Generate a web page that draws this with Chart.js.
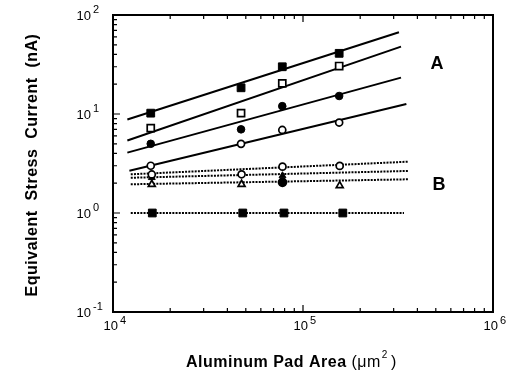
<!DOCTYPE html>
<html>
<head>
<meta charset="utf-8">
<script src="https://cdn.jsdelivr.net/npm/chart.js@4.4.0/dist/chart.umd.min.js"></script>
<style>
    html, body { margin: 0; padding: 0; background: #fff; }
    #wrap { width: 507px; height: 379px; }
</style>
</head>
<body>
<div id="wrap"><canvas id="chart"></canvas></div>
<script>
// tick labels (powers of ten)
const xTickExp = [4, 5, 6];
const yTickExp = [-1, 0, 1, 2];

// measured points, group A (solid fits)
const areaA = [1.58e4, 4.72e4, 7.78e4, 1.55e5];
const stressA1 = [10.2, 18.4, 30, 41];
const stressA2 = [7.2, 10.2, 20.4, 30.5];
const stressA3 = [5.0, 7.0, 12.0, 15.2];
const stressA4 = [3.0, 5.0, 6.9, 8.2];

// measured points, group B (dotted fits)
const areaB = [1.6e4, 4.75e4, 7.8e4, 1.56e5];
const stressB1 = [2.45, 2.46, 2.94, 2.99];
const stressB2 = [2.28, null, 2.38, null];
const stressB3 = [1.95, 1.95, 2.04, 1.89];
const areaB4 = [1.61e4, 4.82e4, 7.94e4, 1.62e5];
const stressB4 = [1.0, 1.0, 1.0, 1.0];

// fitted lines: A1..A4, B1..B4
const fitXLo = [1.19e4, 1.19e4, 1.19e4, 1.22e4, 1.24e4, 1.24e4, 1.24e4, 1.24e4];
const fitXHi = [3.2e5, 3.28e5, 3.28e5, 3.5e5, 3.6e5, 3.6e5, 3.6e5, 3.4e5];
const fitYLo = [8.8, 5.4, 4.07, 2.67, 2.46, 2.27, 1.95, 1.0];
const fitYHi = [66.9, 47.9, 23.3, 12.6, 3.3, 2.66, 2.19, 1.0];

const groupLabels = ['A', 'B'];

const FONT = '"Liberation Sans", Arial, sans-serif';

function pts(xs, ys) {
    return xs.map((x, i) => ({ x: x, y: ys[i] }));
}

const datasets = [];

fitXLo.forEach((lo, i) => {
    const dotted = i >= 4;
    datasets.push({
        type: 'line',
        data: [{ x: lo, y: fitYLo[i] }, { x: fitXHi[i], y: fitYHi[i] }],
        borderColor: '#000',
        borderWidth: 2,
        borderDash: dotted ? [2, 1.2] : [],
        pointRadius: 0,
        fill: false,
        order: 2
    });
});

function markers(xs, ys, style, filled, radius) {
    return {
        type: 'scatter',
        data: pts(xs, ys),
        showLine: false,
        pointStyle: style,
        pointRadius: radius,
        pointBorderWidth: filled === true ? 1 : 1.7,
        pointBorderColor: '#000',
        pointBackgroundColor: Array.isArray(filled) ? filled.map(f => f ? '#000' : '#fff') : (filled ? '#000' : '#fff'),
        order: 1
    };
}

datasets.push(markers(areaA, stressA1, 'rect', true, 5.5));
datasets.push(markers(areaA, stressA2, 'rect', false, 5));
datasets.push(markers(areaA, stressA3, 'circle', true, 3.8));
datasets.push(markers(areaA, stressA4, 'circle', false, 3.5));
datasets.push(markers(areaB, stressB1, 'circle', false, 3.5));
datasets.push(markers(areaB, stressB2, 'triangle', true, 4));
datasets.push(markers(areaB, stressB3, ['triangle', 'triangle', 'circle', 'triangle'], [false, false, true, false], 4));
datasets.push(markers(areaB4, stressB4, 'rect', true, 5.5));

const axisPlugin = {
    id: 'axisDecor',
    afterDraw(chart) {
        const ctx = chart.ctx;
        const xs = chart.scales.x, ys = chart.scales.y;
        const a = chart.chartArea;
        ctx.save();
        ctx.strokeStyle = '#000';
        ctx.fillStyle = '#000';

        // frame
        ctx.lineWidth = 2;
        ctx.strokeRect(a.left, a.top, a.right - a.left, a.bottom - a.top);

        // ticks, inward
        ctx.lineWidth = 1.2;
        ctx.beginPath();
        for (let e = xTickExp[0]; e < xTickExp[xTickExp.length - 1]; e++) {
            for (let m = 1; m <= 9; m++) {
                const px = xs.getPixelForValue(m * Math.pow(10, e));
                const len = m === 1 ? 7 : 4;
                ctx.moveTo(px, a.bottom);
                ctx.lineTo(px, a.bottom - len);
                ctx.moveTo(px, a.top);
                ctx.lineTo(px, a.top + len);
            }
        }
        for (let e = yTickExp[0]; e < yTickExp[yTickExp.length - 1]; e++) {
            for (let m = 1; m <= 9; m++) {
                const py = ys.getPixelForValue(m * Math.pow(10, e));
                const len = m === 1 ? 7 : 4;
                ctx.moveTo(a.left, py);
                ctx.lineTo(a.left + len, py);
            }
        }
        ctx.stroke();

        // tick labels with superscripts
        ctx.textBaseline = 'middle';
        yTickExp.forEach(e => {
            const py = ys.getPixelForValue(Math.pow(10, e));
            ctx.font = '13px ' + FONT;
            ctx.textAlign = 'right';
            ctx.fillText('10', 91, py + 1);
            ctx.font = '11px ' + FONT;
            ctx.textAlign = 'left';
            ctx.fillText(String(e), 93, py - 5);
        });
        xTickExp.forEach(e => {
            const px = xs.getPixelForValue(Math.pow(10, e));
            ctx.font = '13px ' + FONT;
            ctx.textAlign = 'right';
            ctx.fillText('10', px + 5, a.bottom + 14);
            ctx.font = '11px ' + FONT;
            ctx.textAlign = 'left';
            ctx.fillText(String(e), px + 7, a.bottom + 9);
        });

        // axis titles
        ctx.letterSpacing = '0.5px';
        ctx.font = 'bold 16px ' + FONT;
        ctx.textAlign = 'left';
        const t1 = 'Aluminum Pad Area ';
        const t2 = '(\u03bcm';
        let x0 = 186, yT = 363;
        ctx.fillText(t1, x0, yT);
        x0 += ctx.measureText(t1).width;
        ctx.font = '16px ' + FONT;
        ctx.fillText(t2, x0, yT);
        x0 += ctx.measureText(t2).width;
        ctx.font = '10px ' + FONT;
        ctx.fillText('2', x0 + 1, yT - 8);
        x0 += ctx.measureText('2').width + 4;
        ctx.font = '16px ' + FONT;
        ctx.fillText(')', x0, yT);

        ctx.save();
        ctx.translate(33, 165);
        ctx.rotate(-Math.PI / 2);
        ctx.font = 'bold 16px ' + FONT;
        ctx.textAlign = 'center';
        ctx.fillText('Equivalent  Stress  Current  (nA)', 0, 0);
        ctx.restore();
        ctx.letterSpacing = '0px';

        // group labels
        ctx.font = 'bold 18px ' + FONT;
        ctx.textAlign = 'center';
        ctx.fillText(groupLabels[0], 437, 64);
        ctx.fillText(groupLabels[1], 439, 185);

        ctx.restore();
    }
};

new Chart(document.getElementById('chart'), {
    type: 'scatter',
    data: { datasets: datasets },
    options: {
        responsive: true,
        maintainAspectRatio: false,
        animation: false,
        layout: { padding: { top: 15, right: 14, left: 0, bottom: 0 } },
        plugins: {
            legend: { display: false },
            tooltip: { enabled: false }
        },
        scales: {
            x: {
                type: 'logarithmic',
                min: Math.pow(10, xTickExp[0]),
                max: Math.pow(10, xTickExp[xTickExp.length - 1]),
                grid: { display: false },
                border: { display: false },
                ticks: { display: false },
                afterFit: s => { s.height = 67; }
            },
            y: {
                type: 'logarithmic',
                min: Math.pow(10, yTickExp[0]),
                max: Math.pow(10, yTickExp[yTickExp.length - 1]),
                grid: { display: false },
                border: { display: false },
                ticks: { display: false },
                afterFit: s => { s.width = 113; }
            }
        }
    },
    plugins: [axisPlugin]
});
</script>
</body>
</html>
